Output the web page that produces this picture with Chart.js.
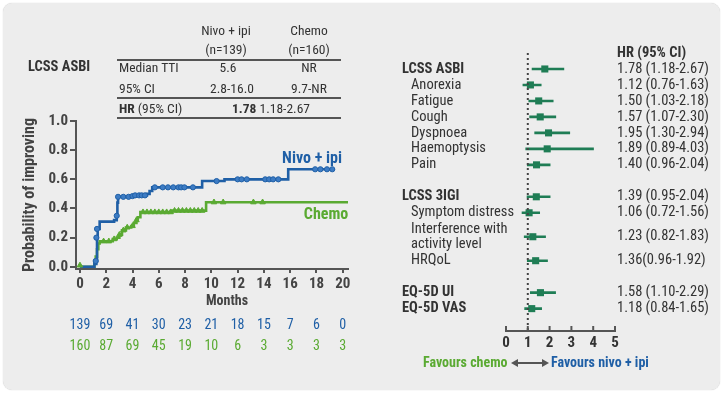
<!DOCTYPE html>
<html><head><meta charset="utf-8">
<script src="https://cdn.jsdelivr.net/npm/chart.js@4.4.1/dist/chart.umd.min.js"></script>
<style>
html,body{margin:0;padding:0;background:#fff;}
#wrap{position:relative;width:725px;height:396px;overflow:hidden;}
#panel{position:absolute;left:3px;top:3px;width:717px;height:387px;background:#ededed;border-radius:9px;box-shadow:0 0 1px rgba(0,0,0,0.25);}
canvas{position:absolute;top:0;}
.t{position:absolute;white-space:nowrap;color:#333;font-family:"Roboto Condensed","Liberation Sans Narrow","DejaVu Sans Condensed",Roboto,sans-serif;font-size:13.5px;line-height:16px;}
.c{transform:translateX(-50%);}
.b{font-weight:bold;}
.hl{position:absolute;height:2px;background:#555;}
</style></head>
<body><div id="wrap"><div id="panel"></div>
<canvas id="km" width="365" height="396" style="left:0;width:365px;height:396px"></canvas>
<canvas id="fp" width="345" height="396" style="left:380px;width:345px;height:396px"></canvas>

<div class="t c" style="left:226px;top:22px">Nivo + ipi</div>
<div class="t c" style="left:226px;top:41px">(n=139)</div>
<div class="t c" style="left:309px;top:22px">Chemo</div>
<div class="t c" style="left:309px;top:41px">(n=160)</div>
<div class="hl" style="left:117px;top:59px;width:224px"></div>
<div class="t b" style="left:28px;top:58px;font-size:14.5px;line-height:17px">LCSS ASBI</div>
<div class="t" style="left:119px;top:59px">Median TTI</div>
<div class="t c" style="left:228px;top:59px">5.6</div>
<div class="t c" style="left:309px;top:59px">NR</div>
<div class="t" style="left:119px;top:80px">95% CI</div>
<div class="t c" style="left:232px;top:80px">2.8-16.0</div>
<div class="t c" style="left:309px;top:80px">9.7-NR</div>
<div class="hl" style="left:117px;top:97px;width:224px"></div>
<div class="t" style="left:119px;top:100px"><b>HR</b> (95% CI)</div>
<div class="t c" style="left:271px;top:100px"><b>1.78</b> 1.18-2.67</div>
<div class="hl" style="left:117px;top:117px;width:224px"></div>

<div class="t c b" style="left:312px;top:149px;font-size:16px;line-height:18px;color:#1f5fa6">Nivo + ipi</div>
<div class="t c b" style="left:326px;top:205px;font-size:16px;line-height:18px;color:#5aaa32">Chemo</div>
<div class="t c b" style="left:227px;top:292px;font-size:14px;line-height:17px;color:#444">Months</div>

<div class="t b" style="left:423px;top:354px;font-size:14px;line-height:17px;color:#5aaa32">Favours chemo</div>
<div class="t b" style="left:551px;top:354px;font-size:14px;line-height:17px;color:#1f5fa6">Favours nivo + ipi</div>
<svg style="position:absolute;left:511px;top:357px" width="38" height="12"><path d="M3 6 H35" stroke="#555" stroke-width="2"/><path d="M0 6 L7 2 L7 10 Z M38 6 L31 2 L31 10 Z" fill="#555"/></svg>
</div>
<script>
const FONT = '"Roboto Condensed","Liberation Sans Narrow","DejaVu Sans Condensed",Roboto,sans-serif';
const BLUE = '#1f5fa6', GREEN = '#5aaa32', FGREEN = '#1f7d55', AX = '#555';

// ---- Kaplan-Meier style data (months, probability) ----
const nivoSteps = [[0,0],[1.0,0],[1.1,0.02],[1.25,0.04],[1.3,0.2],[1.35,0.26],[1.5,0.31],[2.6,0.32],[2.8,0.35],[2.85,0.44],[2.9,0.48],[4.2,0.49],[5.1,0.50],[5.3,0.52],[5.5,0.545],[9.3,0.588],[11.0,0.60],[15.85,0.669],[19.4,0.669]];
const chemoSteps = [[0,0],[1.0,0],[1.1,0.03],[1.2,0.07],[1.3,0.12],[1.4,0.16],[1.5,0.175],[2.5,0.19],[2.8,0.2],[3.0,0.22],[3.2,0.25],[3.5,0.27],[3.9,0.28],[4.1,0.3],[4.3,0.32],[4.4,0.34],[4.6,0.375],[7.0,0.385],[9.6,0.443],[20.4,0.443]];
const nivoCensor = [[1.2,0.04],[1.25,0.2],[1.3,0.26],[2.8,0.35],[2.9,0.48],[3.3,0.48],[3.7,0.48],[4.0,0.485],[4.2,0.49],[4.5,0.49],[4.7,0.49],[4.95,0.49],[5.7,0.545],[6.3,0.545],[6.7,0.545],[7.1,0.545],[7.5,0.545],[7.7,0.545],[7.95,0.545],[8.6,0.545],[10.4,0.588],[12.0,0.60],[12.3,0.60],[12.7,0.60],[14.1,0.60],[14.4,0.60],[14.7,0.60],[15.1,0.60],[17.9,0.669],[18.3,0.669],[18.8,0.669],[19.2,0.669]];
const chemoCensor = [[0,0.01],[1.8,0.175],[2.2,0.175],[2.6,0.19],[3.0,0.22],[3.3,0.25],[3.6,0.27],[4.0,0.28],[4.3,0.32],[4.8,0.375],[5.1,0.375],[5.4,0.375],[5.7,0.375],[6.0,0.375],[6.3,0.375],[6.6,0.375],[6.9,0.375],[7.2,0.385],[7.5,0.385],[7.8,0.385],[8.1,0.385],[8.4,0.385],[8.7,0.385],[9.0,0.385],[9.3,0.385],[10.2,0.443],[10.9,0.443],[13.2,0.443],[13.9,0.443]];
const monthTicks = [0,2,4,6,8,10,12,14,16,18,20];
const probTicks = [0,0.2,0.4,0.6,0.8,1.0];
const riskNivo = [139,69,41,30,23,21,18,15,7,6,0];
const riskChemo = [160,87,69,45,19,10,6,3,3,3,3];

// ---- Forest plot data ----
const fLabels = ['LCSS ASBI','Anorexia','Fatigue','Cough','Dyspnoea','Haemoptysis','Pain','LCSS 3IGI','Symptom distress',['Interference with','activity level'],'HRQoL','EQ-5D UI','EQ-5D VAS'];
const fBold = [true,false,false,false,false,false,false,true,false,false,false,true,true];
const fRow = [0,1,2,3,4,5,6,8,9,10.5,12,14,15];
const fHR = [1.78,1.12,1.50,1.57,1.95,1.89,1.40,1.39,1.06,1.23,1.36,1.58,1.18];
const fLo = [1.18,0.76,1.03,1.07,1.30,0.89,0.96,0.95,0.72,0.82,0.96,1.10,0.84];
const fHi = [2.67,1.63,2.18,2.30,2.94,4.03,2.04,2.04,1.56,1.83,1.92,2.29,1.65];
const fText = ['1.78 (1.18-2.67)','1.12 (0.76-1.63)','1.50 (1.03-2.18)','1.57 (1.07-2.30)','1.95 (1.30-2.94)','1.89 (0.89-4.03)','1.40 (0.96-2.04)','1.39 (0.95-2.04)','1.06 (0.72-1.56)','1.23 (0.82-1.83)','1.36(0.96-1.92)','1.58 (1.10-2.29)','1.18 (0.84-1.65)'];
const hrTicks = [0,1,2,3,4,5];

const pts = a => a.map(([x,y]) => ({x,y}));

new Chart(document.getElementById('km'), {
  type: 'scatter',
  data: { datasets: [
    {data: pts(nivoCensor), pointStyle:'circle', radius:2.6, backgroundColor:'#3d7cc4', borderColor:BLUE, borderWidth:1},
    {data: pts(chemoCensor), pointStyle:'triangle', radius:3.2, backgroundColor:GREEN, borderColor:GREEN, borderWidth:1},
    {data: pts(nivoSteps), showLine:true, stepped:'before', borderColor:BLUE, borderWidth:2.6, pointRadius:0},
    {data: pts(chemoSteps), showLine:true, stepped:'before', borderColor:GREEN, borderWidth:2.6, pointRadius:0}
  ]},
  options: {
    responsive:false, animation:false, events:[],
    layout:{padding:{left:20, top:121, right:17, bottom:102}},
    plugins:{legend:{display:false}, tooltip:{enabled:false}},
    scales:{
      x:{type:'linear', min:-0.3, max:20.4,
         afterBuildTicks:s=>{s.ticks = monthTicks.map(v=>({value:v}));},
         afterFit:s=>{s.height=25;},
         grid:{drawOnChartArea:false, drawTicks:true, tickLength:4, color:AX, lineWidth:2},
         border:{color:AX, width:2},
         ticks:{font:{family:FONT,size:15,weight:'bold'}, color:'#444', padding:2, maxRotation:0}},
      y:{type:'linear', min:-0.015, max:1.0,
         afterBuildTicks:s=>{s.ticks = probTicks.map(v=>({value:v}));},
         afterFit:s=>{s.width=56;},
         grid:{drawOnChartArea:false, drawTicks:true, tickLength:6, color:AX, lineWidth:2},
         border:{color:AX, width:2},
         title:{display:true, text:'Probability of improving', font:{family:FONT,size:16,weight:'bold'}, color:'#444', padding:{top:0,bottom:0}},
         ticks:{font:{family:FONT,size:15,weight:'bold'}, color:'#444', padding:2, callback:v=>v.toFixed(1)}}
    }
  },
  plugins:[{id:'risk', afterDraw(c){
    const ctx=c.ctx, xs=c.scales.x;
    ctx.save(); ctx.font='14px '+FONT; ctx.textAlign='center'; ctx.textBaseline='middle';
    monthTicks.forEach((m,i)=>{
      const px=xs.getPixelForValue(m);
      ctx.fillStyle=BLUE; ctx.fillText(String(riskNivo[i]),px,325);
      ctx.fillStyle=GREEN; ctx.fillText(String(riskChemo[i]),px,346);
    });
    ctx.restore();
  }}]
});

// forest
const whisk = [];
fRow.forEach((r,i)=>{ whisk.push({x:fLo[i],y:r},{x:fHi[i],y:r},{x:null,y:null}); });
new Chart(document.getElementById('fp'), {
  type:'scatter',
  data:{datasets:[
    {data:[{x:1,y:-1},{x:1,y:16.4}], showLine:true, borderColor:'#444', borderWidth:2, borderDash:[2,3], pointRadius:0},
    {data:whisk, showLine:true, spanGaps:false, borderColor:FGREEN, borderWidth:2.6, pointRadius:0},
    {data:fRow.map((r,i)=>({x:fHR[i],y:r})), pointStyle:'rect', radius:5, backgroundColor:FGREEN, borderColor:FGREEN, borderWidth:0}
  ]},
  options:{
    responsive:false, animation:false, events:[],
    layout:{padding:{left:126, right:110, top:53, bottom:45}},
    plugins:{legend:{display:false}, tooltip:{enabled:false}},
    scales:{
      x:{type:'linear', min:0, max:5,
         afterBuildTicks:s=>{s.ticks = hrTicks.map(v=>({value:v}));},
         afterFit:s=>{s.height=20;},
         grid:{display:true, drawOnChartArea:false, drawTicks:false},
         border:{color:AX, width:2},
         ticks:{font:{family:FONT,size:15,weight:'bold'}, color:'#333', padding:3, maxRotation:0}},
      y:{type:'linear', reverse:true, min:-1, max:16.4, display:false}
    }
  },
  plugins:[{id:'labels', afterDraw(c){
    const ctx=c.ctx, ys=c.scales.y, xs=c.scales.x;
    ctx.save();
    ctx.strokeStyle=AX; ctx.lineWidth=2;
    hrTicks.forEach(v=>{const px=xs.getPixelForValue(v); ctx.beginPath(); ctx.moveTo(px,xs.top); ctx.lineTo(px,xs.top-5); ctx.stroke();});
    ctx.fillStyle='#333'; ctx.textBaseline='middle';
    ctx.font='bold 14.5px '+FONT; ctx.textAlign='left';
    ctx.fillText('HR (95% CI)', 237, ys.getPixelForValue(-1));
    fLabels.forEach((lab,i)=>{
      const py=ys.getPixelForValue(fRow[i]);
      ctx.font=(fBold[i]?'bold ':'')+'14.5px '+FONT;
      const x = fBold[i]?22:31;
      if(Array.isArray(lab)){ ctx.fillText(lab[0],x,py-7.5); ctx.fillText(lab[1],x,py+7.5);} else ctx.fillText(lab,x,py);
      ctx.font='14.5px '+FONT;
      ctx.fillText(fText[i],237,py);
    });
    ctx.restore();
  }}]
});
</script>
</body></html>
